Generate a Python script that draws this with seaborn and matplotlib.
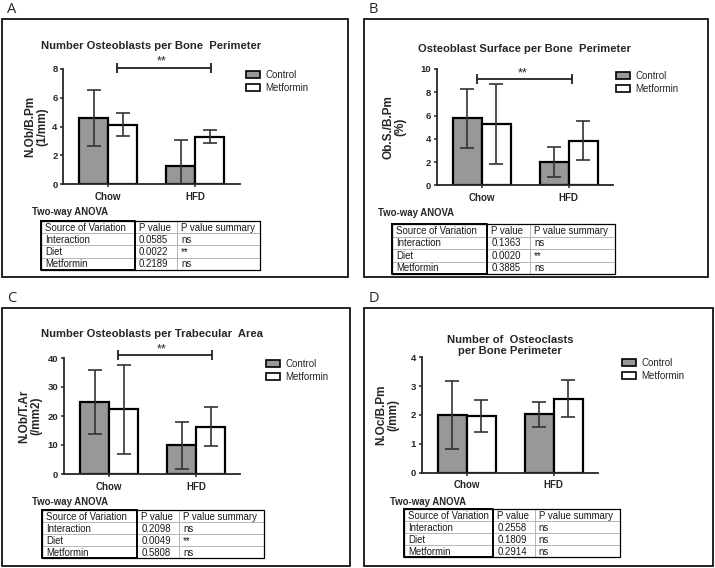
import matplotlib
matplotlib.use("Agg")
import matplotlib.pyplot as plt
import pandas as pd
import seaborn as sns
from matplotlib.patches import Patch, Rectangle


OUTPUT_FILE = "out.png"
FIG_W, FIG_H = 715, 568  # pixels, saved at dpi 100

DIETS = ["Chow", "HFD"]
TREATMENTS = ["Control", "Metformin"]
ANOVA_SOURCES = ["Interaction", "Diet", "Metformin"]
ANOVA_HEADER = ["Source of Variation", "P value", "P value summary"]

# A - number of osteoblasts per bone perimeter
A_CONTROL_MEAN = [4.61, 1.24]
A_CONTROL_SD = [1.93, 1.82]
A_METFORMIN_MEAN = [4.13, 3.30]
A_METFORMIN_SD = [0.80, 0.47]
A_P_VALUES = ["0.0585", "0.0022", "0.2189"]
A_P_SUMMARY = ["ns", "**", "ns"]

# B - osteoblast surface per bone perimeter
B_CONTROL_MEAN = [5.76, 2.00]
B_CONTROL_SD = [2.55, 1.32]
B_METFORMIN_MEAN = [5.24, 3.84]
B_METFORMIN_SD = [3.44, 1.70]
B_P_VALUES = ["0.1363", "0.0020", "0.3885"]
B_P_SUMMARY = ["ns", "**", "ns"]

# C - number of osteoblasts per trabecular area
C_CONTROL_MEAN = [24.8, 9.9]
C_CONTROL_SD = [11.1, 8.1]
C_METFORMIN_MEAN = [22.3, 16.3]
C_METFORMIN_SD = [15.4, 6.8]
C_P_VALUES = ["0.2098", "0.0049", "0.5808"]
C_P_SUMMARY = ["ns", "**", "ns"]

# D - number of osteoclasts per bone perimeter
D_CONTROL_MEAN = [1.99, 2.03]
D_CONTROL_SD = [1.18, 0.43]
D_METFORMIN_MEAN = [1.97, 2.57]
D_METFORMIN_SD = [0.56, 0.63]
D_P_VALUES = ["0.2558", "0.1809", "0.2914"]
D_P_SUMMARY = ["ns", "ns", "ns"]

COLORS = {"Control": "#989898", "Metformin": "#ffffff"}
ERR_COLOR = "#333333"
XLIM = (-0.52, 1.51)


# layout of every panel, in pixels of the final image
PANELS = [
    dict(letter="A", box=(2, 19, 348, 277), axes=(63.1, 68.7, 239.7, 184.3),
         title="Number Osteoblasts per Bone  Perimeter", title_pad=14.5,
         ylabel="N.Ob/B.Pm\n(1/mm)", ylabel_x=36.7, ymax=8, ystep=2,
         legend=(246, 70), sig=(0.10, 1.18, 8.07),
         anova=(32, 212), table=(41, 221, 260, 270), cols=(0.429, 0.621),
         mean=(A_CONTROL_MEAN, A_METFORMIN_MEAN), sd=(A_CONTROL_SD, A_METFORMIN_SD),
         p=A_P_VALUES, summary=A_P_SUMMARY),
    dict(letter="B", box=(364, 19, 708, 277), axes=(436.5, 69.0, 613.1, 185.3),
         title="Osteoblast Surface per Bone  Perimeter", title_pad=12.6,
         ylabel="Ob.S./B.Pm\n(%)", ylabel_x=394, ymax=10, ystep=2,
         legend=(616, 71), sig=(-0.05, 1.04, 9.14),
         anova=(378, 213), table=(392, 224, 615, 274), cols=(0.427, 0.619),
         mean=(B_CONTROL_MEAN, B_METFORMIN_MEAN), sd=(B_CONTROL_SD, B_METFORMIN_SD),
         p=B_P_VALUES, summary=B_P_SUMMARY),
    dict(letter="C", box=(2, 308, 350, 566), axes=(63.8, 358.0, 240.4, 474.0),
         title="Number Osteoblasts per Trabecular  Area", title_pad=14.8,
         ylabel="N.Ob/T.Ar\n(/mm2)", ylabel_x=30.5, ymax=40, ystep=10,
         legend=(266, 359), sig=(0.10, 1.18, 40.9),
         anova=(32, 502), table=(42, 510, 264, 558), cols=(0.43, 0.618),
         mean=(C_CONTROL_MEAN, C_METFORMIN_MEAN), sd=(C_CONTROL_SD, C_METFORMIN_SD),
         p=C_P_VALUES, summary=C_P_SUMMARY),
    dict(letter="D", box=(364, 308, 713, 566), axes=(421.5, 357.3, 598.1, 472.7),
         title="Number of  Osteoclasts\nper Bone Perimeter", title_pad=2.2,
         ylabel="N.Oc/B.Pm\n(/mm)", ylabel_x=387.5, ymax=4, ystep=1,
         legend=(622, 358), sig=None,
         anova=(390, 502), table=(404, 509, 620, 557), cols=(0.413, 0.606),
         mean=(D_CONTROL_MEAN, D_METFORMIN_MEAN), sd=(D_CONTROL_SD, D_METFORMIN_SD),
         p=D_P_VALUES, summary=D_P_SUMMARY),
]


def px_rect(x0, y0, x1, y1):
    """Pixel box (top-left origin) -> figure fraction [left, bottom, w, h]."""
    return [x0 / FIG_W, 1 - y1 / FIG_H, (x1 - x0) / FIG_W, (y1 - y0) / FIG_H]


def px_point(x, y):
    return x / FIG_W, 1 - y / FIG_H


def build_frame(means, sds) -> pd.DataFrame:
    rows = []
    for treatment, m_list, s_list in zip(TREATMENTS, means, sds):
        for diet, m, s in zip(DIETS, m_list, s_list):
            rows.append({"Diet": diet, "Treatment": treatment, "Mean": m, "SD": s})
    return pd.DataFrame(rows)


def draw_bars(fig, cfg):
    df = build_frame(cfg["mean"], cfg["sd"])
    ax = fig.add_axes(px_rect(*cfg["axes"]))

    sns.barplot(data=df, x="Diet", y="Mean", hue="Treatment", order=DIETS,
                hue_order=TREATMENTS, palette=COLORS, width=0.667,
                edgecolor="black", linewidth=1.6, errorbar=None, legend=False, ax=ax)

    # error bars (mean +/- SD) on top of each bar
    for container, treatment in zip(ax.containers, TREATMENTS):
        sub = df[df["Treatment"] == treatment].set_index("Diet").loc[DIETS]
        xs = [bar.get_x() + bar.get_width() / 2 for bar in container]
        ax.errorbar(xs, sub["Mean"], yerr=sub["SD"], fmt="none", ecolor=ERR_COLOR,
                    elinewidth=1.2, capsize=5, capthick=1.2, zorder=5)

    ax.set_xlim(*XLIM)
    ax.set_ylim(0, cfg["ymax"])
    ax.set_yticks(range(0, cfg["ymax"] + 1, cfg["ystep"]))
    ax.set_xlabel("")
    ax.set_ylabel(cfg["ylabel"], fontsize=8.5, fontweight="bold", linespacing=1.0,
                  va="center")
    x0, _, x1, _ = cfg["axes"]
    ax.yaxis.set_label_coords((cfg["ylabel_x"] - x0) / (x1 - x0), 0.5)
    ax.set_title(cfg["title"], fontsize=8.1, fontweight="bold", pad=cfg["title_pad"],
                 linespacing=1.1)

    sns.despine(ax=ax)
    for side in ("left", "bottom"):
        ax.spines[side].set_linewidth(1.3)
    ax.tick_params(axis="both", length=2.5, width=1.1, pad=1.5)
    ax.tick_params(axis="y", labelsize=6.8)
    ax.tick_params(axis="x", labelsize=7, pad=3)
    for lab in ax.get_xticklabels() + ax.get_yticklabels():
        lab.set_fontweight("bold")

    if cfg["sig"] is not None:
        xa, xb, ys = cfg["sig"]
        ax.plot([xa, xb], [ys, ys], color="#222222", lw=1.3, marker="|",
                markersize=7, markeredgewidth=1.3, clip_on=False)
        ax.text((xa + xb) / 2 - 0.03, ys, "**", ha="center", va="bottom",
                fontsize=9, color="#222222")

    handles = [Patch(facecolor=COLORS[t], edgecolor="black", linewidth=1.2)
               for t in TREATMENTS]
    ax.legend(handles, TREATMENTS, loc="upper left", frameon=False,
              bbox_to_anchor=px_point(*cfg["legend"]), bbox_transform=fig.transFigure,
              borderpad=0, borderaxespad=0, handlelength=1.4, handleheight=0.7,
              handletextpad=0.6, labelspacing=0.3, fontsize=7)
    return ax


def draw_table(fig, cfg):
    x0, y0, x1, y1 = cfg["table"]
    ax = fig.add_axes(px_rect(x0, y0, x1, y1))
    ax.set_xlim(0, 1)
    ax.set_ylim(4, 0)
    ax.axis("off")

    c1, c2 = cfg["cols"]
    light = "#b5b5b5"
    for r in (1, 2, 3):
        ax.plot([0, 1], [r, r], color=light, lw=0.7, clip_on=False)
    ax.plot([c2, c2], [0, 4], color=light, lw=0.7, clip_on=False)
    ax.plot([0, 1, 1, 0, 0], [0, 0, 4, 4, 0], color="black", lw=0.9, clip_on=False)
    ax.plot([0, 0, c1, c1, 0], [0, 4, 4, 0, 0], color="black", lw=1.4, clip_on=False)

    width = x1 - x0
    pads = (4 / width, c1 + 4 / width, c2 + 4 / width)
    rows = [ANOVA_HEADER] + [list(r) for r in zip(ANOVA_SOURCES, cfg["p"], cfg["summary"])]
    for i, row in enumerate(rows):
        for xpos, text in zip(pads, row):
            ax.text(xpos, i + 0.55, text, ha="left", va="center", fontsize=6.9,
                    color="#1a1a1a")

    fig.text(*px_point(*cfg["anova"]), "Two-way ANOVA", ha="left", va="center",
             fontsize=6.9, fontweight="bold")


def draw_panel(fig, cfg):
    bx0, by0, bx1, by1 = cfg["box"]
    fig.add_artist(Rectangle(px_point(bx0, by1), (bx1 - bx0) / FIG_W,
                             (by1 - by0) / FIG_H, transform=fig.transFigure,
                             fill=False, edgecolor="#111111", linewidth=1.3))
    fig.text(*px_point(bx0 + 5, by0 - 6), cfg["letter"], ha="left", va="baseline",
             fontsize=10.5, family=["Open Sans", "DejaVu Sans"])
    draw_bars(fig, cfg)
    draw_table(fig, cfg)


def main():
    sns.set_style("ticks")
    plt.rcParams["font.family"] = ["Liberation Sans", "DejaVu Sans"]

    fig = plt.figure(figsize=(FIG_W / 100, FIG_H / 100), dpi=100)
    for cfg in PANELS:
        draw_panel(fig, cfg)
    fig.savefig(OUTPUT_FILE, dpi=100)


if __name__ == "__main__":
    main()
